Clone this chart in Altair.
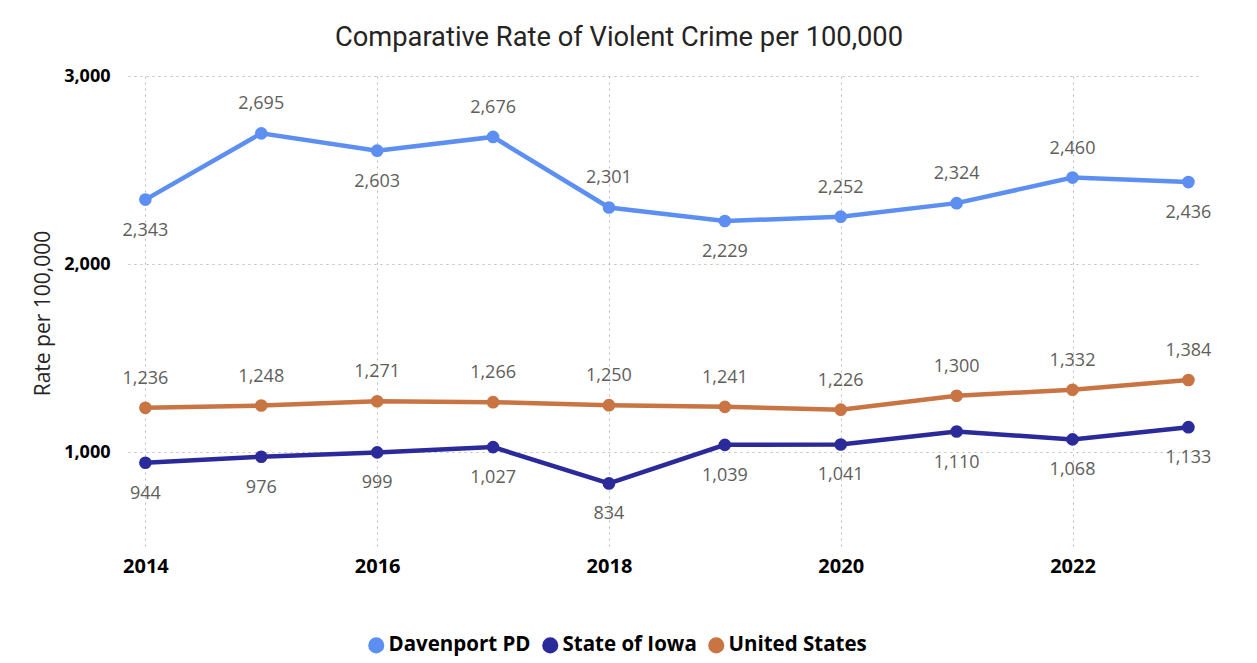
import altair as alt
import pandas as pd

years = [2014, 2015, 2016, 2017, 2018, 2019, 2020, 2021, 2022, 2023]
davenport = [2343, 2695, 2603, 2676, 2301, 2229, 2252, 2324, 2460, 2436]
iowa = [944, 976, 999, 1027, 834, 1039, 1041, 1110, 1068, 1133]
us = [1236, 1248, 1271, 1266, 1250, 1241, 1226, 1300, 1332, 1384]
series_names = ["Davenport PD", "State of Iowa", "United States"]
series_colors = ["#5D8FF2", "#2B2A9B", "#C97443"]
davenport_side = ["below", "above", "below", "above", "above", "below", "above", "above", "above", "below"]
x_ticks = [2014, 2016, 2018, 2020, 2022]
y_ticks = [1000, 2000, 3000]

rows = []
for i, y in enumerate(years):
    rows.append({"year": y, "series": "Davenport PD", "value": davenport[i], "side": davenport_side[i]})
    rows.append({"year": y, "series": "State of Iowa", "value": iowa[i], "side": "below"})
    rows.append({"year": y, "series": "United States", "value": us[i], "side": "above"})
df = pd.DataFrame(rows)

FONT = "Open Sans"

x = alt.X("year:Q", scale=alt.Scale(domain=[2013.85, 2023.1], nice=False, zero=False),
          axis=alt.Axis(values=x_ticks, format="d", title=None, labelFontWeight="bold",
                        labelFontSize=20, labelColor="#000000", labelPadding=6,
                        grid=True, gridDash=[2, 4], gridColor="#BDBDBD", gridWidth=1,
                        domain=False, ticks=False, labelFont=FONT))
y = alt.Y("value:Q", scale=alt.Scale(domain=[480, 3000], nice=False, zero=False),
          axis=alt.Axis(values=y_ticks, format=",d", title="Rate per 100,000",
                        labelFontWeight="bold", labelFontSize=18, labelColor="#000000",
                        labelPadding=18, titleFontSize=21, titleFontWeight="normal",
                        titleColor="#252423", titlePadding=10, titleFont=FONT,
                        grid=True, gridDash=[2, 4], gridColor="#BDBDBD", gridWidth=1,
                        domain=False, ticks=False, labelFont=FONT))
color = alt.Color("series:N", scale=alt.Scale(domain=series_names, range=series_colors),
                  legend=alt.Legend(title=None, orient="none", direction="horizontal",
                                    legendX=238, legendY=559, symbolType="circle",
                                    symbolSize=260, symbolStrokeWidth=0,
                                    labelFontSize=20.5, labelFontWeight="bold",
                                    labelColor="#000000", labelFont=FONT,
                                    columnPadding=9, symbolOffset=0, labelOffset=2))

base = alt.Chart(df).encode(x=x, y=y, color=color)
lines = base.mark_line(strokeWidth=4.5)
points = base.mark_circle(size=160, opacity=1)
text_common = dict(fontSize=18, color="#605E5C", font=FONT)
above = base.transform_filter(alt.datum.side == "above").mark_text(dy=-29, **text_common).encode(
    text=alt.Text("value:Q", format=",d"), color=alt.value("#605E5C"))
below = base.transform_filter(alt.datum.side == "below").mark_text(dy=31, **text_common).encode(
    text=alt.Text("value:Q", format=",d"), color=alt.value("#605E5C"))

chart = alt.layer(lines, points, above, below).properties(
    width=1072, height=474,
    title=alt.TitleParams("Comparative Rate of Violent Crime per 100,000", fontSize=27.3,
                          font="Roboto", fontWeight="normal", color="#252423", offset=16, dx=-45),
    autosize=alt.AutoSizeParams(type="none"),
    padding={"left": 128, "top": 76, "right": 57, "bottom": 113},
).configure(background="#FFFFFF", view=alt.ViewConfig(strokeWidth=0))

chart.save("out.html", embed_options={"renderer": "svg", "actions": False})
